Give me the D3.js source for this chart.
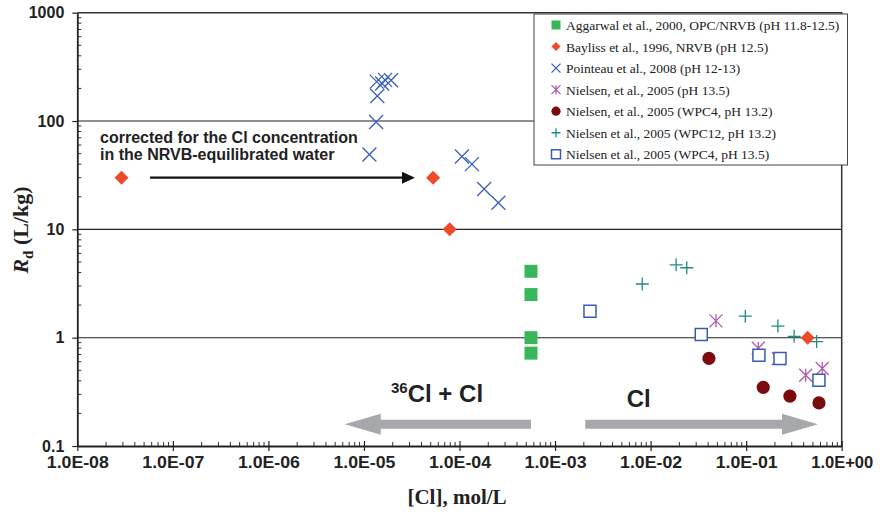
<!doctype html>
<html lang="en">
    <head>
        <meta charset="utf-8">
        <title>Rd vs Cl</title>
        <script type="text/javascript" src="https://cdn.jsdelivr.net/npm/d3@7/dist/d3.min.js"></script>
        <style>
            body { margin: 0; background: #fff; }
            .tick text { font-family: "Liberation Sans", Arial, sans-serif; font-weight: bold; font-size: 16px; fill: #222; }
        </style>
    </head>
    <body>
        <script type="text/javascript">
            // data: [Cl] mol/L, Rd L/kg
            var aggarwal = [[5.6e-4, 4.1], [5.6e-4, 2.5], [5.6e-4, 1.0], [5.6e-4, 0.72]];
            var bayliss = [[2.9e-8, 30], [5.3e-5, 30], [7.9e-5, 10], [0.44, 1.0]];
            var pointeau = [[1.36e-5, 231], [1.55e-5, 222], [1.66e-5, 240], [1.92e-5, 238], [1.38e-5, 170],
                            [1.34e-5, 98], [1.14e-5, 49], [1.06e-4, 47], [1.35e-4, 40], [1.81e-4, 23.6], [2.55e-4, 17.6]];
            var nielsen135 = [[0.0483, 1.43], [0.134, 0.80], [0.217, 0.64], [0.42, 0.45], [0.626, 0.52]];
            var wpc4_132 = [[0.0408, 0.644], [0.151, 0.348], [0.287, 0.289], [0.578, 0.25]];
            var wpc12_132 = [[0.00818, 3.13], [0.0185, 4.70], [0.0239, 4.42], [0.098, 1.58], [0.215, 1.28], [0.318, 1.03], [0.546, 0.92]];
            var wpc4_135 = [[0.00232, 1.75], [0.0339, 1.07], [0.136, 0.687], [0.226, 0.644], [0.578, 0.404]];

            var xTicks = [1e-8, 1e-7, 1e-6, 1e-5, 1e-4, 1e-3, 1e-2, 1e-1, 1];
            var yTicks = [0.1, 1, 10, 100, 1000];
            var yTickLabels = ["0.1", "1", "10", "100", "1000"];

            var legendLabels = [
                "Aggarwal et al., 2000, OPC/NRVB (pH 11.8-12.5)",
                "Bayliss et al., 1996, NRVB (pH 12.5)",
                "Pointeau et al., 2008 (pH 12-13)",
                "Nielsen, et al., 2005 (pH 13.5)",
                "Nielsen, et al., 2005 (WPC4, pH 13.2)",
                "Nielsen et al., 2005 (WPC12, pH 13.2)",
                "Nielsen et al., 2005 (WPC4, pH 13.5)"
            ];

            var svgW = 880;
            var svgH = 514;
            var padding = {top: 12.7, right: 38.3, bottom: 68, left: 77.3};
            var w = svgW - padding.left - padding.right;
            var h = svgH - padding.top - padding.bottom;

            var xScale = d3.scaleLog().domain([1e-8, 1]).range([0, w]);
            var yScale = d3.scaleLog().domain([0.1, 1000]).range([h, 0]);

            var svg = d3.select("body")
                        .append("svg")
                        .attr("width", svgW)
                        .attr("height", svgH);

            var g = svg.append("g")
                       .attr("transform", "translate(" + padding.left + "," + padding.top + ")");

            // marker shapes
            var markerPath = {
                square: s => "M" + (-s) + "," + (-s) + "h" + (2 * s) + "v" + (2 * s) + "h" + (-2 * s) + "Z",
                diamond: s => "M0," + (-s) + "L" + s + ",0L0," + s + "L" + (-s) + ",0Z",
                cross: s => "M" + (-s) + "," + (-s) + "L" + s + "," + s + "M" + (-s) + "," + s + "L" + s + "," + (-s),
                star: s => "M" + (-s) + "," + (-s) + "L" + s + "," + s + "M" + (-s) + "," + s + "L" + s + "," + (-s) + "M0," + (-s) + "L0," + s,
                plus: s => "M" + (-s) + ",0L" + s + ",0M0," + (-s) + "L0," + s
            };

            var series = [
                {data: aggarwal, shape: "square", size: 6.5, lsize: 4.5, fill: "#37b75a", stroke: "none", sw: 0},
                {data: bayliss, shape: "diamond", size: 7, lsize: 4.5, fill: "#ee4a2a", stroke: "none", sw: 0},
                {data: pointeau, shape: "cross", size: 7, lsize: 4.5, fill: "none", stroke: "#3a5fb8", sw: 1.3},
                {data: nielsen135, shape: "star", size: 6.5, lsize: 4.5, fill: "none", stroke: "#b35aae", sw: 1.3},
                {data: wpc4_132, shape: "circle", size: 6.6, lsize: 4.6, fill: "#7b0c0e", stroke: "none", sw: 0},
                {data: wpc12_132, shape: "plus", size: 6.5, lsize: 4.5, fill: "none", stroke: "#1f8b83", sw: 1.3},
                {data: wpc4_135, shape: "square", size: 6, lsize: 4.5, fill: "#fff", stroke: "#3a5bb5", sw: 1.5}
            ];

            // gridlines at 1, 10, 100
            g.selectAll("line.grid")
             .data(yTicks.slice(1, 4))
             .enter()
             .append("line")
             .attr("class", "grid")
             .attr("x1", 0)
             .attr("x2", w)
             .attr("y1", d => yScale(d))
             .attr("y2", d => yScale(d))
             .style("stroke", "#222")
             .style("stroke-width", 1.1);

            // frame: top and right
            g.append("path")
             .attr("d", "M0,0H" + w + "V" + h)
             .style("fill", "none")
             .style("stroke", "#333")
             .style("stroke-width", 1.5);

            // minor ticks
            var xMinor = [];
            xTicks.slice(0, -1).forEach(t => { for (var k = 2; k <= 9; k++) xMinor.push(t * k); });
            var yMinor = [];
            yTicks.slice(0, -1).forEach(t => { for (var k = 2; k <= 9; k++) yMinor.push(t * k); });

            g.selectAll("line.xminor")
             .data(xMinor)
             .enter()
             .append("line")
             .attr("x1", d => xScale(d))
             .attr("x2", d => xScale(d))
             .attr("y1", h)
             .attr("y2", h - 4)
             .style("stroke", "#333")
             .style("stroke-width", 1);

            g.selectAll("line.yminor")
             .data(yMinor)
             .enter()
             .append("line")
             .attr("x1", 0)
             .attr("x2", 4)
             .attr("y1", d => yScale(d))
             .attr("y2", d => yScale(d))
             .style("stroke", "#333")
             .style("stroke-width", 1);

            var expFormat = d => {
                var e = Math.round(Math.log10(d));
                return "1.0E" + (e < 0 ? "-" : "+") + String(Math.abs(e)).padStart(2, "0");
            };

            var xAxis = d3.axisBottom(xScale)
                          .tickValues(xTicks)
                          .tickFormat(expFormat)
                          .tickSizeInner(5)
                          .tickSizeOuter(0)
                          .tickPadding(6);

            var yAxis = d3.axisLeft(yScale)
                          .tickValues(yTicks)
                          .tickFormat((d, i) => yTickLabels[i])
                          .tickSizeInner(5)
                          .tickSizeOuter(0)
                          .tickPadding(8);

            var gx = g.append("g")
                      .attr("transform", "translate(0," + h + ")")
                      .call(xAxis);
            gx.selectAll(".tick line").attr("y1", -5);
            gx.selectAll(".tick text")
              .attr("textLength", 62)
              .attr("lengthAdjust", "spacingAndGlyphs");

            var gy = g.append("g").call(yAxis);

            [gx, gy].forEach(a => {
                a.select(".domain").style("stroke", "#222").style("stroke-width", 1.8);
                a.selectAll(".tick line").style("stroke", "#222").style("stroke-width", 1.2);
            });

            // gray arrows and their labels
            var arrowY = 0.159;
            var leftArrow = [5.6e-4, 6.3e-6];
            var rightArrow = [2.07e-3, 0.565];

            var bigArrow = (x0, x1, y) => {
                var dir = x1 > x0 ? 1 : -1;
                var hb = x1 - dir * 36;
                return "M" + x0 + "," + (y - 4.5) + "L" + hb + "," + (y - 4.5) + "L" + hb + "," + (y - 10.5) +
                       "L" + x1 + "," + y + "L" + hb + "," + (y + 10.5) + "L" + hb + "," + (y + 4.5) +
                       "L" + x0 + "," + (y + 4.5) + "Z";
            };

            g.selectAll("path.bigarrow")
             .data([leftArrow, rightArrow])
             .enter()
             .append("path")
             .attr("d", d => bigArrow(xScale(d[0]), xScale(d[1]), yScale(arrowY)))
             .style("fill", "#a6a8ab");

            var t36 = g.append("text")
                       .attr("x", xScale(1.92e-5))
                       .attr("y", yScale(0.256))
                       .style("font-family", "Liberation Sans, Arial, sans-serif")
                       .style("font-weight", "bold")
                       .style("font-size", "24px")
                       .style("fill", "#222");
            t36.append("tspan").attr("dy", -8.5).style("font-size", "15px").text("36");
            t36.append("tspan").attr("dy", 8.5).text("Cl + Cl");

            g.append("text")
             .attr("x", xScale(5.62e-3))
             .attr("y", yScale(0.23))
             .style("font-family", "Liberation Sans, Arial, sans-serif")
             .style("font-weight", "bold")
             .style("font-size", "24px")
             .style("fill", "#222")
             .text("Cl");

            // correction note with black arrow
            var noteX = 1.73e-8;
            var noteLines = [["corrected for the Cl concentration", 62.6], ["in the NRVB-equilibrated water", 43.6]];
            var noteArrow = [5.77e-8, 3.42e-5, 30];

            g.selectAll("text.note")
             .data(noteLines)
             .enter()
             .append("text")
             .attr("x", xScale(noteX))
             .attr("y", d => yScale(d[1]))
             .style("font-family", "Liberation Sans, Arial, sans-serif")
             .style("font-weight", "bold")
             .style("font-size", "16px")
             .style("fill", "#222")
             .text(d => d[0]);

            var ax0 = xScale(noteArrow[0]);
            var ax1 = xScale(noteArrow[1]);
            var ay = yScale(noteArrow[2]);
            g.append("line")
             .attr("x1", ax0)
             .attr("x2", ax1 - 10)
             .attr("y1", ay)
             .attr("y2", ay)
             .style("stroke", "#111")
             .style("stroke-width", 2.4);
            g.append("path")
             .attr("d", "M" + (ax1 - 13) + "," + (ay - 6) + "L" + ax1 + "," + ay + "L" + (ax1 - 13) + "," + (ay + 6) + "Z")
             .style("fill", "#111");

            // points
            var drawMarker = (sel, s, size) => {
                if (s.shape === "circle") {
                    sel.append("circle").attr("r", size);
                } else {
                    sel.append("path").attr("d", markerPath[s.shape](size));
                }
                sel.selectAll("*")
                   .style("fill", s.fill)
                   .style("stroke", s.stroke)
                   .style("stroke-width", s.sw);
            };

            series.forEach(s => {
                g.append("g")
                 .selectAll("g")
                 .data(s.data)
                 .enter()
                 .append("g")
                 .attr("transform", d => "translate(" + xScale(d[0]) + "," + yScale(d[1]) + ")")
                 .each(function () { drawMarker(d3.select(this), s, s.size); });
            });

            // legend
            var legend = svg.append("g")
                            .attr("transform", "translate(534,14)");
            legend.append("rect")
                  .attr("width", 313.5)
                  .attr("height", 151)
                  .style("fill", "#fff")
                  .style("stroke", "#444")
                  .style("stroke-width", 1);

            var rows = legend.selectAll("g.row")
                             .data(series)
                             .enter()
                             .append("g")
                             .attr("class", "row")
                             .attr("transform", (_, i) => "translate(22," + (11 + i * 21.55) + ")");
            rows.each(function (s) { drawMarker(d3.select(this), s, s.lsize); });
            rows.append("text")
                .attr("x", 10)
                .attr("y", 5)
                .style("font-family", "Liberation Serif, Times New Roman, serif")
                .style("font-size", "13.5px")
                .style("fill", "#222")
                .text((_, i) => legendLabels[i]);

            // axis titles
            svg.append("text")
               .attr("x", 457)
               .attr("y", 504)
               .attr("text-anchor", "middle")
               .style("font-family", "Liberation Serif, Times New Roman, serif")
               .style("font-weight", "bold")
               .style("font-size", "21px")
               .style("fill", "#222")
               .text("[Cl], mol/L");

            var yl = svg.append("text")
                        .attr("transform", "translate(28,230) rotate(-90)")
                        .attr("text-anchor", "middle")
                        .style("font-family", "Liberation Serif, Times New Roman, serif")
                        .style("font-weight", "bold")
                        .style("font-size", "22px")
                        .style("fill", "#222");
            yl.append("tspan").style("font-style", "italic").text("R");
            yl.append("tspan").attr("dy", 5).style("font-size", "15px").text("d");
            yl.append("tspan").attr("dy", -5).text(" (L/kg)");
        </script>
    </body>
</html>
